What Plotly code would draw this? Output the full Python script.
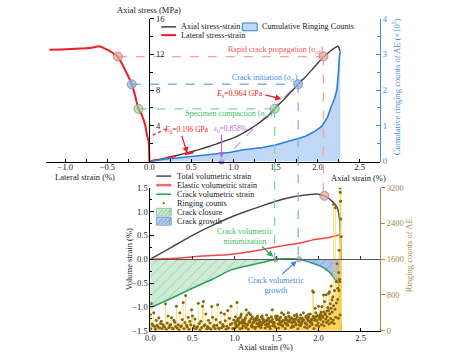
import plotly.graph_objects as go

W, H = 454, 358
FONT = "Liberation Serif, Times New Roman, serif"

# ---------------- data: top panel (stress-strain) ----------------
axial_strain = [0.0, 0.1, 0.2, 0.3, 0.4, 0.5, 0.6, 0.7, 0.8, 0.9, 1.0, 1.1, 1.2, 1.3, 1.4, 1.49,
                1.6, 1.7, 1.77, 1.85, 1.95, 2.07, 2.15, 2.2, 2.24, 2.255, 2.265]
axial_stress = [0, 0.2, 0.4, 0.62, 0.85, 1.1, 1.35, 1.65, 1.98, 2.3, 2.65, 3.1, 3.65, 4.28, 5.0, 5.9,
                6.95, 7.95, 8.63, 9.4, 10.45, 11.7, 12.35, 12.7, 12.9, 12.75, 12.35]
lateral_strain = [0, -0.004, -0.01, -0.03, -0.05, -0.09, -0.13, -0.17, -0.21, -0.27, -0.33, -0.375,
                  -0.46, -0.54, -0.6, -0.66, -0.72, -0.82, -0.93, -1.05, -1.19]
lateral_stress = [0, 1.56, 2.3, 3.0, 4.1, 5.2, 5.9, 7.4, 8.7, 9.9, 11.0, 11.7,
                  12.3, 12.7, 12.9, 12.8, 12.7, 12.65, 12.6, 12.55, 12.5]
cum_strain = [0, 0.1, 0.2, 0.3, 0.44, 0.6, 0.8, 0.95, 1.1, 1.2, 1.345, 1.5, 1.61, 1.69, 1.74, 1.85,
              1.93, 1.97, 2.05, 2.09, 2.12, 2.16, 2.2, 2.23, 2.24, 2.25, 2.26, 2.27]
cum_counts = [0, 0.04, 0.07, 0.09, 0.12, 0.16, 0.21, 0.25, 0.32, 0.35, 0.39, 0.46, 0.53, 0.59, 0.62, 0.7,
              0.8, 0.85, 0.98, 1.12, 1.25, 1.52, 1.75, 2.0, 2.2, 2.55, 2.93, 3.08]

# characteristic stages: compaction (cc), initiation (ci), rapid propagation (cd)
stage_stress = [5.9, 8.65, 11.75]
stage_axial = [1.49, 1.77, 2.07]
stage_lateral = [-0.13, -0.21, -0.375]
stage_vol = [0.0, 0.0, 1.33]
E0_gpa = 0.196
Es_gpa = 0.964
eps0 = 0.858
E0_end = 0.56
Es_end = 1.82

# ---------------- data: bottom panel (volumetric strain) ----------------
vol_axial = [0, 0.25, 0.5, 0.75, 0.94, 1.1, 1.33, 1.5, 1.73, 1.9, 1.98, 2.07, 2.16, 2.22, 2.25, 2.26, 2.27]
total_vol = [0, 0.25, 0.5, 0.72, 0.87, 0.98, 1.12, 1.22, 1.32, 1.36, 1.37, 1.33, 1.22, 1.09, 0.85, 0.45, 0.0]
el_axial = [0, 0.3, 0.62, 0.94, 1.2, 1.41, 1.6, 1.81, 1.92, 2.1, 2.25]
el_vol = [0, 0.02, 0.065, 0.1, 0.16, 0.23, 0.29, 0.35, 0.4, 0.45, 0.51]
cr_axial = [0, 0.25, 0.5, 0.75, 0.94, 1.1, 1.33, 1.49, 1.6, 1.7, 1.77, 1.85, 1.92, 2.0, 2.05, 2.1,
            2.15, 2.19, 2.22, 2.24, 2.25, 2.26, 2.27]
cr_vol = [-1.02, -0.82, -0.61, -0.41, -0.24, -0.16, -0.07, 0.0, 0.01, 0.01, 0.0, -0.04, -0.08, -0.13,
          -0.17, -0.23, -0.31, -0.41, -0.47, -0.53, -0.9, -1.3, -1.5]

ae_strain = [0.00, 0.01, 0.02, 0.04, 0.05, 0.07, 0.08, 0.10, 0.11, 0.13, 0.15, 0.17, 0.18, 0.20, 0.21, 0.23,
             0.25, 0.26, 0.28, 0.29, 0.31, 0.33, 0.35, 0.36, 0.38, 0.39, 0.41, 0.42, 0.43, 0.45, 0.47, 0.49,
             0.50,
             0.52, 0.53, 0.55, 0.57, 0.58, 0.60, 0.62, 0.63, 0.65, 0.66, 0.68, 0.69, 0.71, 0.73, 0.74, 0.76,
             0.78, 0.80, 0.81, 0.83, 0.84, 0.86, 0.88, 0.89, 0.91, 0.92, 0.94, 0.96, 0.97, 0.99,
             1.01, 1.02, 1.03, 1.04, 1.05, 1.07, 1.08, 1.09, 1.10, 1.12, 1.13, 1.14, 1.15, 1.17, 1.18, 1.19,
             1.20, 1.22, 1.23, 1.25, 1.26, 1.27, 1.29, 1.30, 1.31, 1.33, 1.34, 1.35, 1.37, 1.38, 1.39, 1.41,
             1.42, 1.43, 1.45, 1.46, 1.47, 1.49, 1.50,
             1.52, 1.53, 1.54, 1.56, 1.57, 1.58, 1.60, 1.61, 1.62, 1.64, 1.65, 1.66, 1.68, 1.69, 1.70, 1.72,
             1.73, 1.74, 1.76, 1.77, 1.78, 1.80, 1.81, 1.82, 1.84, 1.85, 1.86, 1.88, 1.89, 1.90, 1.92, 1.93,
             1.94, 1.96, 1.97, 1.98, 2.00,
             2.01, 2.02, 2.03, 2.04, 2.05, 2.06, 2.07, 2.08, 2.09, 2.10, 2.11, 2.12, 2.13, 2.14, 2.15, 2.16,
             2.17, 2.18, 2.19, 2.20, 2.21, 2.22, 2.23, 2.24, 2.245, 2.25, 2.255, 2.258, 2.261, 2.264, 2.267,
             2.27]
ae_counts = [360, 610, 150, 400, 90, 230, 120, 290, 60, 210, 140, 80, 600, 170, 330, 110,
             290, 60, 230, 190, 545, 130, 400, 90, 250, 630, 180, 785, 120, 300, 210, 470,
             330,
             110, 260, 70, 615, 160, 210, 545, 655, 130, 370, 90, 230, 170, 540, 300, 120,
             250, 580, 60, 190, 400, 140, 370, 220, 100, 450, 280, 545, 160, 240,
             180, 90, 630, 250, 140, 300, 370, 60, 210, 160, 280, 470, 120, 400, 220, 360,
             100, 170, 260, 80, 230, 290, 150, 200, 110, 330, 190, 240, 130, 160, 232, 270,
             90, 210, 470, 180, 120, 330, 250,
             150, 260, 190, 400, 120, 230, 170, 300, 140, 400, 210, 290, 180, 110, 250, 200,
             150, 360, 230, 130, 280, 190, 240, 400, 170, 300, 140, 360, 220, 180, 260, 885,
             860, 500, 310, 230, 545,
             280, 350, 420, 540, 300, 800, 650, 380, 805, 440, 520, 835, 870, 600, 1000, 690,
             760, 2830, 900, 2750, 1100, 1500, 950, 1300, 1800, 1150, 3200, 3100, 2900, 2500, 3250,
             2100]
ae_strain_low = [0.005, 0.03, 0.06, 0.09, 0.12, 0.14, 0.16, 0.19, 0.22, 0.24, 0.27, 0.30, 0.32, 0.34,
                 0.37, 0.40, 0.44, 0.46, 0.48, 0.51, 0.54, 0.56, 0.59, 0.61, 0.64, 0.67, 0.70, 0.72,
                 0.75, 0.77, 0.79, 0.82, 0.85, 0.87, 0.90, 0.93, 0.95, 0.98,
                 1.005, 1.015, 1.035, 1.055, 1.065, 1.085, 1.105, 1.115, 1.135, 1.155, 1.165, 1.185,
                 1.205, 1.215, 1.235, 1.245, 1.265, 1.285, 1.295, 1.315, 1.325, 1.345, 1.365, 1.375,
                 1.395, 1.405, 1.425, 1.445, 1.455, 1.475, 1.485, 1.505, 1.525, 1.545, 1.555, 1.575,
                 1.595, 1.605, 1.625, 1.635, 1.655, 1.675, 1.685, 1.705, 1.715, 1.735, 1.755, 1.765,
                 1.785, 1.795, 1.815, 1.835, 1.845, 1.865, 1.875, 1.895, 1.915, 1.925, 1.945, 1.955,
                 1.975, 1.995, 2.005, 2.025, 2.035, 2.055, 2.065, 2.085, 2.095, 2.115, 2.125, 2.145,
                 2.155, 2.175, 2.185, 2.205, 2.235, 2.255]
ae_counts_low = [40, 120, 30, 80, 160, 50, 100, 30, 70, 140, 40, 90, 60, 20,
                 110, 50, 80, 30, 130, 60, 40, 90, 20, 70, 110, 40, 60, 30,
                 90, 50, 120, 40, 70, 100, 30, 60, 140, 50,
                 60, 140, 90, 200, 40, 170, 110, 230, 70, 150, 30, 190,
                 120, 80, 210, 50, 160, 100, 240, 70, 130, 180, 60, 220,
                 90, 150, 40, 200, 110, 170, 80, 250, 60, 140, 190, 100,
                 230, 50, 160, 120, 210, 70, 180, 90, 260, 130, 40, 200,
                 110, 150, 240, 80, 170, 60, 220, 100, 190, 140, 50, 230,
                 120, 170, 90, 250, 140, 200, 110, 260, 180, 220, 150, 270,
                 190, 240, 160, 300, 280, 350]
ae_strain_mid = [1.012, 1.028, 1.047, 1.062, 1.078, 1.097, 1.118, 1.128, 1.147, 1.172, 1.196, 1.212,
                 1.228, 1.252, 1.274, 1.292, 1.308, 1.322, 1.338, 1.356, 1.382, 1.402, 1.418, 1.438,
                 1.452, 1.468, 1.492, 1.512, 1.532, 1.548, 1.566, 1.588, 1.612, 1.628, 1.646, 1.662,
                 1.678, 1.696, 1.712, 1.728, 1.746, 1.768, 1.788, 1.806, 1.826, 1.852, 1.868, 1.882,
                 1.902, 1.918, 1.938, 1.952, 1.968, 1.988, 2.012, 2.028, 2.046, 2.062, 2.078, 2.102,
                 2.118, 2.132, 2.148, 2.162, 2.178, 2.196, 2.212, 2.228, 2.243, 2.252]
ae_counts_mid = [310, 220, 270, 190, 330, 240, 180, 290, 350, 210, 260, 310,
                 200, 280, 330, 240, 190, 300, 260, 220, 350, 280, 200, 310,
                 250, 190, 290, 330, 240, 300, 210, 360, 270, 230, 320, 250,
                 290, 200, 340, 260, 310, 230, 350, 280, 240, 330, 260, 300,
                 370, 250, 320, 290, 400, 340, 300, 380, 330, 420, 360, 310,
                 450, 380, 500, 420, 560, 480, 620, 700, 900, 1100]
assert len(ae_strain) == len(ae_counts), (len(ae_strain), len(ae_counts))
assert len(ae_strain_low) == len(ae_counts_low), (len(ae_strain_low), len(ae_counts_low))
assert len(ae_strain_mid) == len(ae_counts_mid), (len(ae_strain_mid), len(ae_counts_mid))

# ---------------- styling ----------------
C_AXIAL = "#3f3f3f"
C_LAT = "#ee1c25"
C_CUM = "#2f7ee0"
C_CUMFILL = "rgba(176,206,243,0.8)"
C_BLUEAX = "#3f8ae0"
stage_text = ["#3dbb6a", "#3f8ae0", "#ef5b5b"]
stage_dash = ["#82d69b", "#7fb2ee", "#f4a2a2"]
stage_fill = ["rgba(150,210,160,0.65)", "rgba(140,182,232,0.75)", "rgba(240,160,160,0.75)"]
C_PURPLE = "#b06ae0"
C_PURPLE_D = "#c9a3ef"
C_TOT = "#4a4a4a"
C_EL = "#f04646"
C_CR = "#25a35a"
C_STEM = "rgba(255,205,70,0.65)"
C_DOT = "#86670f"
C_KHAKI = "#a08a4a"

# pixel layout -> paper
def px(x):
    return x / W

def py(y):
    return 1 - y / H

TOP_XDOM = [px(41), px(379)]
TOP_YDOM = [py(161), py(14)]
BOT_XDOM = [px(147), px(379)]
BOT_YDOM = [py(335), py(188)]
TOP_XRANGE = [-1.235, 2.741]
BOT_XRANGE = [0, 2.729]
STRESS_RANGE = [0, 16]
VOL_RANGE = [-1.5, 1.5]

def top_y_paper(s):
    return TOP_YDOM[0] + (s - STRESS_RANGE[0]) / (STRESS_RANGE[1] - STRESS_RANGE[0]) * (TOP_YDOM[1] - TOP_YDOM[0])

def bot_y_paper(v):
    return BOT_YDOM[0] + (v - VOL_RANGE[0]) / (VOL_RANGE[1] - VOL_RANGE[0]) * (BOT_YDOM[1] - BOT_YDOM[0])

fig = go.Figure()

# ---------------- top panel traces ----------------
fig.add_trace(go.Scatter(x=cum_strain, y=cum_counts, xaxis="x", yaxis="y2", mode="lines",
                         line=dict(color=C_CUM, width=1.6), fill="tozeroy", fillcolor=C_CUMFILL))
for i in range(3):
    fig.add_trace(go.Scatter(x=[stage_lateral[i], stage_axial[i]], y=[stage_stress[i]] * 2,
                             xaxis="x", yaxis="y", mode="lines",
                             line=dict(color=stage_dash[i], width=1.3, dash="dash")))
E0_slope = E0_gpa * 1000 / 100
Es_slope = Es_gpa * 1000 / 100
fig.add_trace(go.Scatter(x=[eps0, Es_end], y=[0, Es_slope * (Es_end - eps0)], xaxis="x", yaxis="y",
                         mode="lines", line=dict(color=C_PURPLE_D, width=1.3, dash="dash")))
fig.add_trace(go.Scatter(x=axial_strain, y=axial_stress, xaxis="x", yaxis="y", mode="lines",
                         line=dict(color=C_AXIAL, width=1.4, shape="spline", smoothing=0.6)))
fig.add_trace(go.Scatter(x=lateral_strain, y=lateral_stress, xaxis="x", yaxis="y", mode="lines",
                         line=dict(color=C_LAT, width=2, shape="spline", smoothing=0.6)))
fig.add_trace(go.Scatter(x=[0, E0_end], y=[0, E0_slope * E0_end], xaxis="x", yaxis="y", mode="lines",
                         line=dict(color=C_LAT, width=2.2, dash="dash")))
fig.add_trace(go.Scatter(x=stage_lateral + stage_axial, y=stage_stress + stage_stress, xaxis="x", yaxis="y",
                         mode="markers",
                         marker=dict(size=9, color=stage_fill + stage_fill, line=dict(color="#8a8a8a", width=0.8))))
fig.add_trace(go.Scatter(x=[eps0], y=[0], xaxis="x", yaxis="y", mode="markers",
                         marker=dict(size=6, color=C_PURPLE), cliponaxis=False))

# ---------------- bottom panel traces ----------------
cl_x = [x for x in cr_axial if x <= stage_axial[0]]
cl_y = [v for x, v in zip(cr_axial, cr_vol) if x <= stage_axial[0]]
gr_x = [x for x in cr_axial if x >= stage_axial[1]]
gr_y = [v for x, v in zip(cr_axial, cr_vol) if x >= stage_axial[1]]
fig.add_trace(go.Scatter(x=cl_x, y=cl_y, xaxis="x2", yaxis="y3", mode="none", fill="tozeroy",
                         fillcolor="rgba(196,232,206,0.85)",
                         fillpattern=dict(shape="/", fgcolor="rgba(110,150,125,0.9)",
                                          bgcolor="rgba(196,232,206,0.85)", size=7, solidity=0.12)))
fig.add_trace(go.Scatter(x=gr_x, y=gr_y, xaxis="x2", yaxis="y3", mode="none", fill="tozeroy",
                         fillcolor="rgba(160,190,242,0.95)",
                         fillpattern=dict(shape="/", fgcolor="rgba(80,100,150,0.9)",
                                          bgcolor="rgba(160,190,242,0.95)", size=7, solidity=0.12)))
fig.add_trace(go.Scatter(x=vol_axial, y=total_vol, xaxis="x2", yaxis="y3", mode="lines",
                         line=dict(color=C_TOT, width=1.5, shape="spline", smoothing=0.5)))
fig.add_trace(go.Scatter(x=el_axial, y=el_vol, xaxis="x2", yaxis="y3", mode="lines",
                         line=dict(color=C_EL, width=1.5, shape="spline", smoothing=0.5)))
fig.add_trace(go.Scatter(x=cr_axial, y=cr_vol, xaxis="x2", yaxis="y3", mode="lines",
                         line=dict(color=C_CR, width=1.5, shape="spline", smoothing=0.5)))
fig.add_trace(go.Scatter(x=[stage_axial[2]], y=[stage_vol[2]], xaxis="x2", yaxis="y3", mode="markers",
                         marker=dict(size=9, color=stage_fill[2], line=dict(color="#8a8a8a", width=0.8))))
fig.add_trace(go.Scatter(x=stage_axial[:2], y=stage_vol[:2], xaxis="x2", yaxis="y3", mode="markers",
                         marker=dict(size=5, color="#b9bec6", line=dict(color="#7a7a7a", width=0.6))))
# zero axis with ticks (overlay)
fig.add_trace(go.Scatter(x=[BOT_XRANGE[0], BOT_XRANGE[1]], y=[0, 0], xaxis="x3", yaxis="y3", mode="lines",
                         line=dict(color="rgba(0,0,0,0)", width=0), hoverinfo="skip"))

all_x = ae_strain_low + ae_strain_mid + ae_strain
all_y = ae_counts_low + ae_counts_mid + ae_counts
stem_x, stem_y = [], []
for xv, yv in zip(all_x, all_y):
    stem_x += [xv, xv, None]
    stem_y += [0, yv, None]
fig.add_trace(go.Scatter(x=stem_x, y=stem_y, xaxis="x2", yaxis="y4", mode="lines",
                         line=dict(color=C_STEM, width=1), connectgaps=False))
fig.add_trace(go.Scatter(x=all_x, y=all_y, xaxis="x2", yaxis="y4", mode="markers",
                         marker=dict(size=3, color=C_DOT)))

# ---------------- shapes ----------------
shapes = []
for i in range(3):
    shapes.append(dict(type="line", xref="x", yref="paper", x0=stage_axial[i], x1=stage_axial[i],
                       y0=top_y_paper(stage_stress[i]), y1=bot_y_paper(stage_vol[i]),
                       line=dict(color=stage_dash[i], width=1.3, dash="dash"), layer="above"))
# small tangent glyph beside E0 label
shapes.append(dict(type="line", xref="x", yref="y", x0=0.04, y0=2.95, x1=0.22, y1=3.75,
                   line=dict(color=C_LAT, width=1.3, dash="dot")))

# manual compact legends
def leg_line(x0, x1, yy, color, width):
    shapes.append(dict(type="line", xref="paper", yref="paper", x0=px(x0), x1=px(x1), y0=py(yy), y1=py(yy),
                       line=dict(color=color, width=width)))

def leg_box(x0, x1, y0, y1, fill, edge, hatch):
    shapes.append(dict(type="rect", xref="paper", yref="paper", x0=px(x0), x1=px(x1), y0=py(y1), y1=py(y0),
                       fillcolor=fill, line=dict(color=edge, width=1)))
    if hatch:
        for k in range(4):
            a = x0 + 1 + k * 4
            shapes.append(dict(type="line", xref="paper", yref="paper", x0=px(a), y0=py(y1 - 1),
                               x1=px(min(a + 6, x1 - 0.5)), y1=py(y0 + 1), line=dict(color=hatch, width=0.6)))

leg_line(158, 173, 22.5, C_AXIAL, 1.5)
leg_line(158, 173, 31, C_LAT, 2)
leg_box(240, 255, 18.5, 26.5, C_CUMFILL, C_CUM, None)

bot_rows = [176, 185.3, 194.6, 203.9, 213.2, 222.5]
leg_line(153, 168, bot_rows[0], C_TOT, 1.5)
leg_line(153, 168, bot_rows[1], "#f26a6a", 2.5)
leg_line(153, 168, bot_rows[2], C_CR, 1.5)
shapes.append(dict(type="circle", xref="paper", yref="paper", x0=px(159.3), x1=px(161.7),
                   y0=py(bot_rows[3] + 1.2), y1=py(bot_rows[3] - 1.2), fillcolor=C_DOT, line=dict(width=0)))
leg_box(153, 168, bot_rows[4] - 4, bot_rows[4] + 4, "rgba(196,232,206,0.9)", "#8fcaa0", "rgba(110,150,125,0.9)")
leg_box(153, 168, bot_rows[5] - 4, bot_rows[5] + 4, "rgba(170,196,240,0.9)", "#7ea6e6", "rgba(90,110,150,0.9)")

# ---------------- annotations ----------------
ann = []
def ptxt(text, x, y, size=8.5, color="#1a1a1a", xanchor="left", angle=0):
    ann.append(dict(text=text, x=px(x), y=py(y), xref="paper", yref="paper", showarrow=False,
                    xanchor=xanchor, yanchor="middle", textangle=angle,
                    font=dict(size=size, color=color, family=FONT)))

ptxt("Axial stress-strain", 176, 22.5, size=8.2)
ptxt("Lateral stress-strain", 176, 31, size=8.2)
ptxt("Cumulative Ringing Counts", 258, 22.5, size=8.2)
legend_bottom = ["Total volumetric strain", "Elastic volumetric strain", "Crack volumetric strain",
                 "Ringing counts", "Crack closure", "Crack growth"]
for name, yy in zip(legend_bottom, bot_rows):
    ptxt(name, 171.5, yy, size=8.2)

ptxt("Axial stress (MPa)", 146, 5.5, xanchor="center")
ptxt("Lateral strain (%)", 81, 176.5, xanchor="center")
ptxt("Axial strain (%)", 357, 177.5, xanchor="center")
ptxt("Axial strain (%)", 263, 352, xanchor="center")
ptxt("Cumulative ringing counts of AE (×10<sup>5</sup>)", 396, 84, color=C_BLUEAX, xanchor="center", angle=-90)
ptxt("Volume strain (%)", 125, 262, xanchor="center", angle=-90)
ptxt("Ringing counts of AE", 408, 258, color=C_KHAKI, xanchor="center", angle=-90)

def dtxt(text, x, y, color, xref="x", yref="y", size=8, xanchor="center"):
    ann.append(dict(text=text, x=x, y=y, xref=xref, yref=yref, showarrow=False, xanchor=xanchor,
                    yanchor="middle", font=dict(size=size, color=color, family=FONT)))

dtxt("Rapid crack propagation (<i>σ</i><sub>cd</sub>)", 1.51, 12.45, stage_text[2])
dtxt("Crack initiation (<i>σ</i><sub>ci</sub>)", 1.38, 9.4, stage_text[1])
dtxt("Specimen compaction (<i>σ</i><sub>cc</sub>)", 0.94, 5.35, stage_text[0])
dtxt("<i>E</i><sub>s</sub>=0.964 GPa", 1.07, 7.6, C_LAT)
dtxt("<i>E</i><sub>0</sub>=0.196 GPa", 0.735, 3.55, C_LAT, size=7.5, xanchor="right")
dtxt("<i>ε</i><sub>0</sub>=0.858%", 0.75, 3.6, C_PURPLE, size=7.5, xanchor="left")
dtxt("Crack volumetric<br>minimization", 1.13, 0.47, stage_text[0], "x2", "y3")
dtxt("Crack volumetric<br>growth", 1.49, -0.55, stage_text[1], "x2", "y3")

def arrow(x0, y0, x1, y1, color, xref="x", yref="y"):
    ann.append(dict(x=x1, y=y1, ax=x0, ay=y0, xref=xref, yref=yref, axref=xref, ayref=yref,
                    showarrow=True, arrowhead=2, arrowsize=1, arrowwidth=1.2, arrowcolor=color, text=""))

arrow(0.38, 3.05, 0.45, 0.95, C_LAT)
arrow(1.36, 7.5, 1.57, 7.0, C_LAT)
arrow(eps0, 3.2, eps0, 0.4, C_PURPLE)
arrow(1.31, 0.3, 1.46, 0.05, C_CR, "x2", "y3")
arrow(1.55, -0.34, 1.74, -0.04, stage_text[1], "x2", "y3")

tickfont = dict(size=8.5, color="#1a1a1a", family=FONT)
xt_vals = [-1, -0.5, 0, 0.5, 1, 1.5, 2, 2.5]
xt_text = ["−1.0", "−0.5", "0.0", "0.5", "1.0", "1.5", "2.0", "2.5"]
bx_vals = [0, 0.5, 1, 1.5, 2, 2.5]
bx_text = ["0.0", "0.5", "1.0", "1.5", "2.0", "2.5"]
vy_vals = [-1.5, -1, -0.5, 0, 0.5, 1, 1.5]
vy_text = ["−1.5", "−1.0", "−0.5", "0.0", "0.5", "1.0", "1.5"]

fig.update_layout(
    width=W, height=H, margin=dict(l=0, r=0, t=0, b=0),
    paper_bgcolor="white", plot_bgcolor="rgba(0,0,0,0)", showlegend=False,
    font=dict(family=FONT, size=8.5, color="#1a1a1a"),
    xaxis=dict(domain=TOP_XDOM, range=TOP_XRANGE, anchor="y", showline=True, linecolor="black",
               linewidth=1, ticks="inside", ticklen=3, tickcolor="black", tickvals=xt_vals,
               ticktext=xt_text, tickfont=tickfont, showgrid=False, zeroline=False,
               ticklabelstandoff=-3,
               minor=dict(tickvals=[-1.25, -0.75, -0.25, 0.25, 0.75, 1.25, 1.75, 2.25], ticks="inside",
                          ticklen=3, tickcolor="black")),
    yaxis=dict(domain=TOP_YDOM, range=STRESS_RANGE, anchor="free", position=px(146), side="right",
               showline=True, linecolor="black", linewidth=1, ticks="outside", ticklen=4, tickcolor="black",
               tickvals=[4, 8, 12, 16], tickfont=tickfont, showgrid=False, zeroline=False,
               minor=dict(tickvals=[2, 6, 10, 14], ticks="outside", ticklen=3, tickcolor="black")),
    yaxis2=dict(overlaying="y", range=[0, 4], anchor="free", position=px(379), side="right",
                showline=True, linecolor=C_BLUEAX, linewidth=1.2, ticks="inside", ticklen=4,
                tickcolor=C_BLUEAX, tickvals=[0, 1, 2, 3, 4],
                tickfont=dict(size=8.5, color=C_BLUEAX, family=FONT), showgrid=False, zeroline=False,
                minor=dict(tickvals=[0.5, 1.5, 2.5, 3.5], ticks="inside", ticklen=3, tickcolor=C_BLUEAX)),
    xaxis2=dict(domain=BOT_XDOM, range=BOT_XRANGE, anchor="y3", showline=True, linecolor="black",
                linewidth=1, ticks="inside", ticklen=3, tickcolor="black", tickvals=bx_vals,
                ticktext=bx_text, tickfont=tickfont, showgrid=False, zeroline=False,
                ticklabelstandoff=-1),
    xaxis3=dict(overlaying="x2", range=BOT_XRANGE, anchor="free", position=bot_y_paper(0), side="bottom",
                showline=True, linecolor="#555555", linewidth=1, ticks="inside", ticklen=3,
                tickcolor="#333333", tickvals=[0.5, 1, 1.5, 2, 2.5], showticklabels=False,
                showgrid=False, zeroline=False),
    yaxis3=dict(domain=BOT_YDOM, range=VOL_RANGE, anchor="x2", side="left", showline=True,
                linecolor="black", linewidth=1, ticks="inside", ticklen=4, tickcolor="black",
                tickvals=vy_vals, ticktext=vy_text, tickfont=tickfont, showgrid=False, zeroline=False,
                minor=dict(tickvals=[-1.25, -0.75, -0.25, 0.25, 0.75, 1.25], ticks="inside", ticklen=2,
                           tickcolor="black")),
    yaxis4=dict(overlaying="y3", range=[0, 3200], anchor="x2", side="right", showline=True,
                linecolor=C_KHAKI, linewidth=1.2, ticks="outside", ticklen=4, tickcolor=C_KHAKI,
                tickvals=[0, 800, 1600, 2400, 3200], tickfont=dict(size=8.5, color=C_KHAKI, family=FONT),
                showgrid=False, zeroline=False),
    shapes=shapes, annotations=ann,
)

fig.write_html("out.html", config={"displayModeBar": False},
               post_script="document.body.style.margin='0';")
